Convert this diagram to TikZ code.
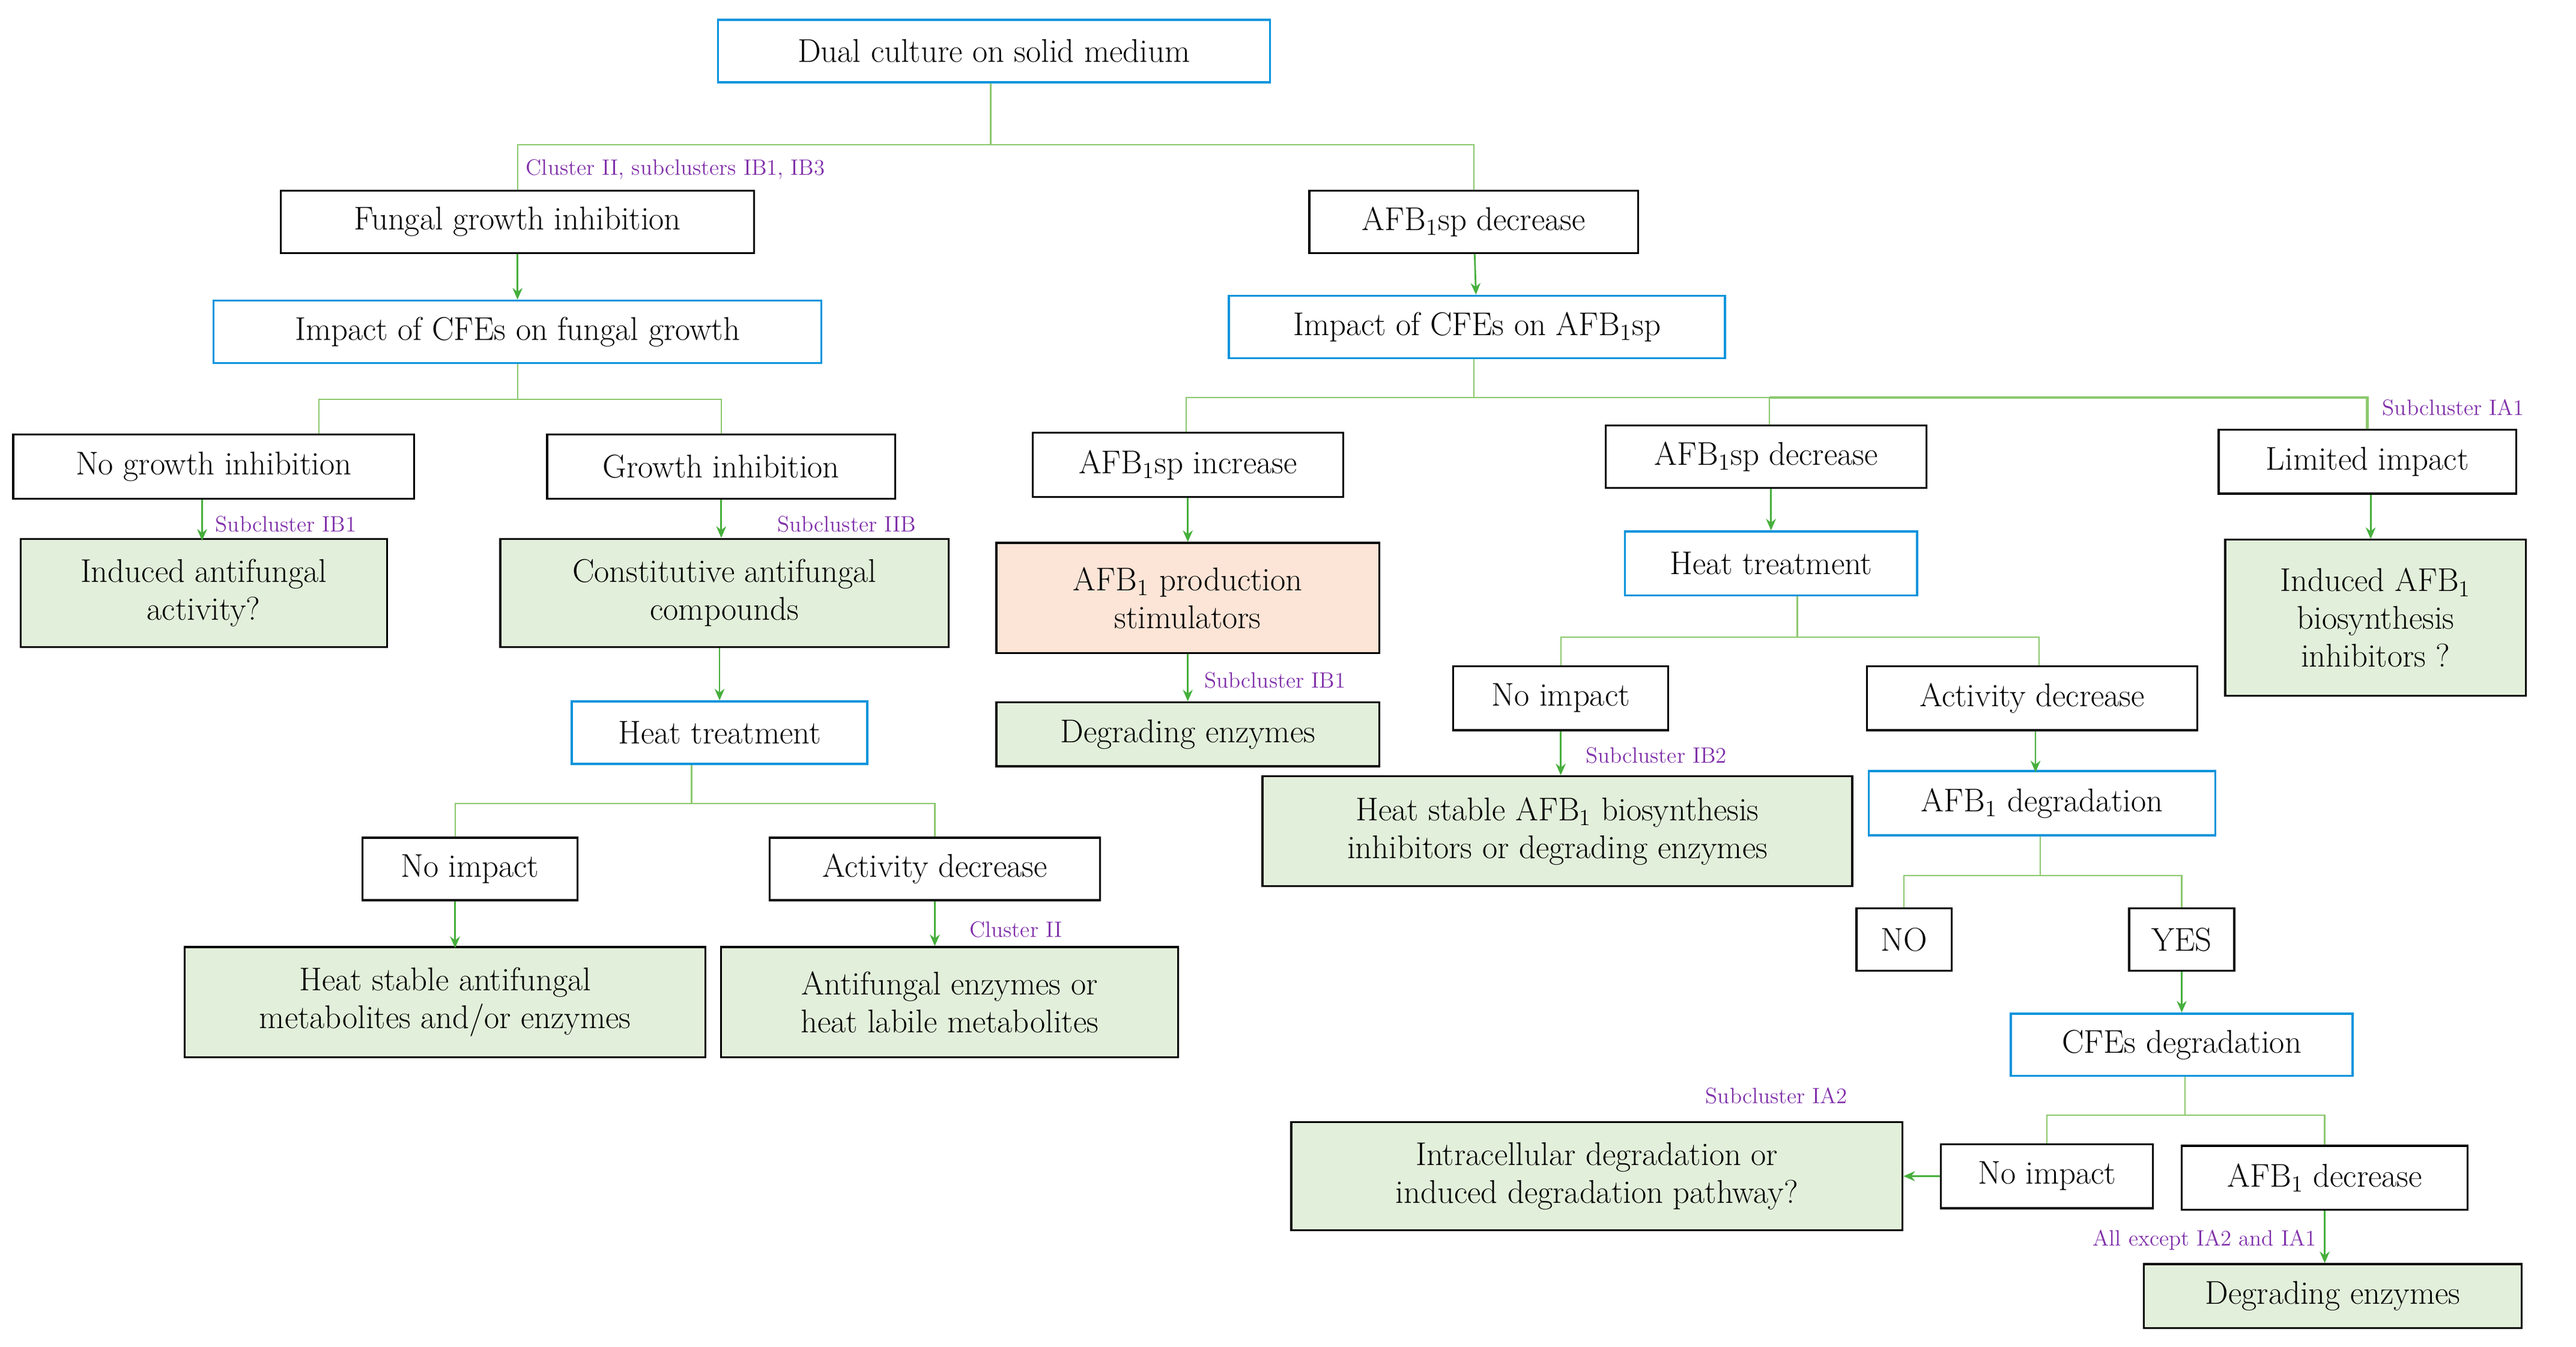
\documentclass[tikz,border=0pt]{standalone}
\usetikzlibrary{arrows.meta}
\begin{document}
\begin{tikzpicture}[x=1pt,y=-1pt,
 every node/.style={font=\fontsize{20}{23}\selectfont, align=center, inner sep=2pt},
 bk/.style={draw=black, line width=1.2pt},
 cy/.style={draw=cyan!80!blue, line width=1.3pt},
 gr/.style={draw=black, line width=1.2pt, fill=grfill},
 og/.style={draw=black, line width=1.2pt, fill=ogfill},
 tl/.style={draw=lgreen, line width=0.8pt},
 ar/.style={draw=dgreen, line width=1pt, -{Stealth[length=7pt,width=6pt]}},
 lb/.style={font=\fontsize{13.5}{15}\selectfont, text=lpurple, inner sep=0pt}]
\definecolor{grfill}{RGB}{226,239,218}
\definecolor{ogfill}{RGB}{252,228,214}
\definecolor{lgreen}{RGB}{140,200,110}
\definecolor{dgreen}{RGB}{70,175,60}
\definecolor{lpurple}{RGB}{128,48,170}
\useasboundingbox (0,0) rectangle (1568,820);
\newcommand{\bx}[7]{\node[#1, minimum width=#5, minimum height=#6] (#2) at (#3,#4) {#7};}
\bx{cy}{dual}{605}{31}{336}{38}{Dual culture on solid medium}
\bx{bk}{fgi}{315}{135}{288}{38}{Fungal growth inhibition}
\bx{bk}{afbA}{897}{135}{200}{38}{AFB\textsubscript{1}sp decrease}
\bx{cy}{impfg}{315}{202}{370}{38}{Impact of CFEs on fungal growth}
\bx{cy}{impafb}{899}{199}{302}{38}{Impact of CFEs on AFB\textsubscript{1}sp}
\bx{bk}{nogi}{130}{284}{244}{39}{No growth inhibition}
\bx{bk}{gi}{439}{284}{212}{39}{Growth inhibition}
\bx{gr}{induced}{124}{361}{223}{66}{Induced antifungal\\activity?}
\bx{gr}{constit}{441}{361}{273}{66}{Constitutive antifungal\\compounds}
\bx{cy}{heatA}{438}{446}{180}{38}{Heat treatment}
\bx{bk}{noimpA}{286}{529}{131}{38}{No impact}
\bx{bk}{actA}{569}{529}{201}{38}{Activity decrease}
\bx{gr}{hsA}{271}{610}{317}{67}{Heat stable antifungal\\metabolites and/or enzymes}
\bx{gr}{anti}{578}{610}{278}{67}{Antifungal enzymes or\\heat labile metabolites}
\bx{bk}{afbinc}{723}{283}{189}{39}{AFB\textsubscript{1}sp increase}
\bx{og}{stim}{723}{364}{233}{67}{AFB\textsubscript{1} production\\stimulators}
\bx{gr}{degA}{723}{447}{233}{39}{Degrading enzymes}
\bx{bk}{afbB}{1075}{278}{195}{38}{AFB\textsubscript{1}sp decrease}
\bx{bk}{limited}{1441}{281}{181}{39}{Limited impact}
\bx{gr}{indafb}{1446}{376}{183}{95}{Induced AFB\textsubscript{1}\\biosynthesis\\inhibitors ?}
\bx{cy}{heatB}{1078}{343}{178}{39}{Heat treatment}
\bx{bk}{noimpB}{950}{425}{131}{39}{No impact}
\bx{bk}{actB}{1237}{425}{201}{39}{Activity decrease}
\bx{gr}{hsB}{948}{506}{359}{67}{Heat stable AFB\textsubscript{1} biosynthesis\\inhibitors or degrading enzymes}
\bx{cy}{afbdeg}{1243}{489}{211}{39}{AFB\textsubscript{1} degradation}
\bx{bk}{no}{1159}{572}{58}{38}{NO}
\bx{bk}{yes}{1328}{572}{64}{38}{YES}
\bx{cy}{cfedeg}{1328}{636}{208}{38}{CFEs degradation}
\bx{gr}{intra}{972}{716}{372}{66}{Intracellular degradation or\\induced degradation pathway?}
\bx{bk}{noimpC}{1246}{716}{129}{39}{No impact}
\bx{bk}{afbC}{1415}{717}{174}{39}{AFB\textsubscript{1} decrease}
\bx{gr}{degB}{1420}{789}{230}{39}{Degrading enzymes}
% trees
\coordinate (j1) at (603,88);
\draw[tl] (dual.south -| j1) -- (j1);
\draw[tl] (fgi.north) |- (j1) -| (afbA.north);
\coordinate (j2) at (315,243);
\draw[tl] (impfg.south) -- (j2);
\draw[tl] ([xshift=64pt]nogi.north) |- (j2) -| (gi.north);
\coordinate (j3) at (421,489);
\draw[tl] (heatA.south -| j3) -- (j3);
\draw[tl] ([xshift=-9pt]noimpA.north) |- (j3) -| (actA.north);
\coordinate (j4) at (897,242);
\draw[tl] (impafb.south -| j4) -- (j4);
\draw[tl] ([xshift=-1pt]afbinc.north) |- (j4) -| ([xshift=2pt]afbB.north);
\draw[tl, line width=1.6pt] ([xshift=2pt]afbB.north |- j4) -| (limited.north);
\coordinate (j5) at (1094,388);
\draw[tl] (heatB.south -| j5) -- (j5);
\draw[tl] (noimpB.north) |- (j5) -| ([xshift=4pt]actB.north);
\coordinate (j6) at (1242,533);
\draw[tl] (afbdeg.south -| j6) -- (j6);
\draw[tl] (no.north) |- (j6) -| (yes.north);
\coordinate (j7) at (1330,679);
\draw[tl] (cfedeg.south -| j7) -- (j7);
\draw[tl] (noimpC.north) |- (j7) -| (afbC.north);
% arrows
\draw[ar] (fgi) -- (impfg);
\draw[ar] (afbA) -- (impafb);
\draw[ar] ([xshift=-7pt]nogi.south) -- ++(0,25);
\draw[ar] (gi) -- (constit.north -| gi);
\draw[ar] (constit.south -| heatA) -- (heatA);
\draw[ar] ([xshift=-9pt]noimpA.south) -- ++(0,28.5);
\draw[ar] (actA) -- (anti.north -| actA);
\draw[ar] (afbinc) -- (stim);
\draw[ar] (stim) -- (degA);
\draw[ar] ([xshift=2pt]limited.south) -- ++(0,27);
\draw[ar] (afbB.south -| heatB) -- (heatB);
\draw[ar] (noimpB) -- (hsB.north -| noimpB);
\draw[ar] ([xshift=2pt]actB.south) -- ++(0,25);
\draw[ar] (yes) -- (cfedeg);
\draw[ar] (noimpC) -- (intra);
\draw[ar] (afbC) -- (degB.north -| afbC);
% labels
\node[lb, anchor=west] (l1) at (320,103) {Cluster II, subclusters IB1, IB3};
\node[lb, anchor=west] (l2) at (131,319) {Subcluster IB1};
\node[lb, anchor=west] (l3) at (473,319) {Subcluster IIB};
\node[lb, anchor=west] (l4) at (590,566) {Cluster II};
\node[lb, anchor=west] (l5) at (733,414) {Subcluster IB1};
\node[lb, anchor=west] (l6) at (1450,248) {Subcluster IA1};
\node[lb, anchor=west] (l7) at (965,460) {Subcluster IB2};
\node[lb, anchor=west] (l8) at (1038,667) {Subcluster IA2};
\node[lb, anchor=east] (l9) at (1410,755) {All except IA2 and IA1};
\end{tikzpicture}
\end{document}
